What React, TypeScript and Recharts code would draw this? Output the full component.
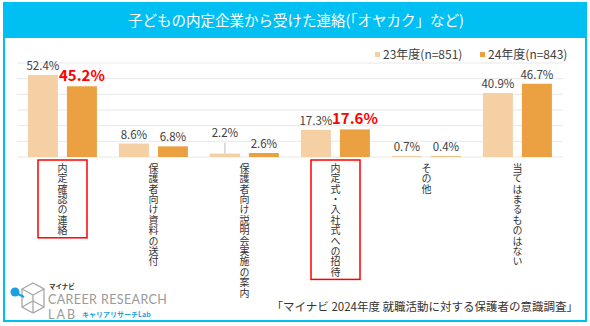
import React from 'react'
import { BarChart, Bar, XAxis, YAxis, CartesianGrid, LabelList } from 'recharts'

const categories = [
  '内定確認の連絡',
  '保護者向け資料の送付',
  '保護者向け説明会実施の案内',
  '内定式・入社式への招待',
  'その他',
  '当てはまるものはない',
]
const fy23 = [52.4, 8.6, 2.2, 17.3, 0.7, 40.9]
const fy24 = [45.2, 6.8, 2.6, 17.6, 0.4, 46.7]
const highlighted = ['内定確認の連絡', '内定式・入社式への招待']
const yTicks = [0, 10, 20, 30, 40, 50, 60]

const seriesNames = { fy23: '23年度(n=851)', fy24: '24年度(n=843)' }
const colors = { fy23: '#F5D0A5', fy24: '#EBA042' }
const CYAN = '#00BFF3'
const FONT = '"Noto Sans CJK JP", "Noto Sans", sans-serif'

const data = categories.map((name, i) => ({ name, fy23: fy23[i], fy24: fy24[i] }))

const CHAR_STEP = 10.4

function CategoryTick(props: any) {
  const { x, payload } = props
  const label = payload.value as string
  const n = Array.from(label).length
  const boxed = highlighted.includes(label)
  return (
    <g>
      {boxed && (
        <rect
          x={x - 24.5}
          y={160}
          width={49}
          height={n * CHAR_STEP + 5}
          fill="none"
          stroke="#FF0000"
          strokeWidth={1.5}
        />
      )}
      <text
        x={x}
        y={163}
        fontSize={10}
        letterSpacing={0.4}
        fill="#333"
        fontFamily={FONT}
        style={{ writingMode: 'vertical-rl' }}
      >
        {label}
      </text>
    </g>
  )
}

function makeLabel(series: 'fy23' | 'fy24') {
  return (props: any) => {
    const { x, y, width, value, index } = props
    const cx = x + width / 2
    const red = series === 'fy24' && highlighted.includes(categories[index])
    // the 2.2% label is lifted above its neighbour with a leader line
    const lift = series === 'fy23' && index === 2 ? 12 : 0
    return (
      <g>
        {lift > 0 && <line x1={cx} x2={cx} y1={y - lift + 1} y2={y} stroke="#bbb" strokeWidth={1} />}
        <text
          x={cx}
          y={y - 5 - lift}
          textAnchor="middle"
          fontSize={red ? 15 : 11.5}
          fontWeight={red ? 700 : 400}
          fill={red ? '#FF0000' : '#404040'}
          fontFamily={FONT}
        >
          {value.toFixed(1)}%
        </text>
      </g>
    )
  }
}

function LegendItems() {
  const items = [
    { name: seriesNames.fy23, color: colors.fy23, x: 375 },
    { name: seriesNames.fy24, color: colors.fy24, x: 480 },
  ]
  return (
    <g>
      {items.map((it) => (
        <g key={it.name}>
          <rect x={it.x} y={52} width={5} height={5} fill={it.color} />
          <text x={it.x + 8} y={59} fontSize={12} fill="#404040" fontFamily={FONT}>
            {it.name}
          </text>
        </g>
      ))}
    </g>
  )
}

function Logo() {
  return (
    <g>
      <g stroke="#a8a8a8" strokeWidth={1.3} fill="none">
        <path d="M22 289 L33 283 L44 289 L44 307 L33 313 L22 307 Z" />
        <path d="M22 289 L33 295 L44 289 M33 295 L33 313" />
        <path d="M22 307 L33 301 L44 307" />
      </g>
      <line x1={16} y1={293} x2={24} y2={297} stroke="#1a9fe0" strokeWidth={2} />
      <circle cx={15} cy={292} r={4.5} fill="#1a9fe0" />
      <text x={49} y={288.5} fontSize={6.5} fontWeight={700} fill="#333" fontFamily={FONT}>マイナビ</text>
      <text x={48} y={303.5} fontSize={12.5} fill="#9a9a9a" fontFamily="Lato, sans-serif" letterSpacing={0.4}>CAREER RESEARCH</text>
      <text x={48} y={318.5} fontSize={12.5} fill="#9a9a9a" fontFamily="Lato, sans-serif" letterSpacing={2}>LAB</text>
      <text x={82} y={317} fontSize={7} fontWeight={700} fill="#1a9fe0" fontFamily={FONT}>キャリアリサーチLab</text>
    </g>
  )
}

export default function App() {
  return (
    <div style={{ position: 'absolute', left: 0, top: 0, width: 590, height: 326, background: '#fff' }}>
      <svg width={590} height={326} style={{ position: 'absolute', left: 0, top: 0 }}>
        <rect x={4} y={3} width={582} height={318} fill="#fff" stroke={CYAN} strokeWidth={2} />
        <rect x={3} y={2} width={584} height={36} fill={CYAN} />
        <text x={296} y={26} textAnchor="middle" fontSize={14.5} fill="#fff" fontFamily={FONT}>
          子どもの内定企業から受けた連絡(「オヤカク」など)
        </text>
        <LegendItems />
        <Logo />
        <text x={578} y={311} textAnchor="end" fontSize={11.5} fill="#333" fontFamily={FONT}>
          「マイナビ 2024年度 就職活動に対する保護者の意識調査」
        </text>
      </svg>
      <div style={{ position: 'absolute', left: 0, top: 0 }}>
        <BarChart
          width={590}
          height={326}
          data={data}
          margin={{ top: 63, right: 27, bottom: 139, left: 17 }}
          barCategoryGap="12%"
          barGap={9}
        >
          <CartesianGrid vertical={false} stroke="#e8e8e8" />
          <YAxis hide domain={[0, 60]} ticks={yTicks} interval={0} />
          <XAxis
            dataKey="name"
            interval={0}
            axisLine={false}
            tickLine={false}
            height={30}
            tick={<CategoryTick />}
          />
          <Bar dataKey="fy23" name={seriesNames.fy23} fill={colors.fy23} isAnimationActive={false}>
            <LabelList dataKey="fy23" content={makeLabel('fy23')} />
          </Bar>
          <Bar dataKey="fy24" name={seriesNames.fy24} fill={colors.fy24} isAnimationActive={false}>
            <LabelList dataKey="fy24" content={makeLabel('fy24')} />
          </Bar>
        </BarChart>
      </div>
    </div>
  )
}
